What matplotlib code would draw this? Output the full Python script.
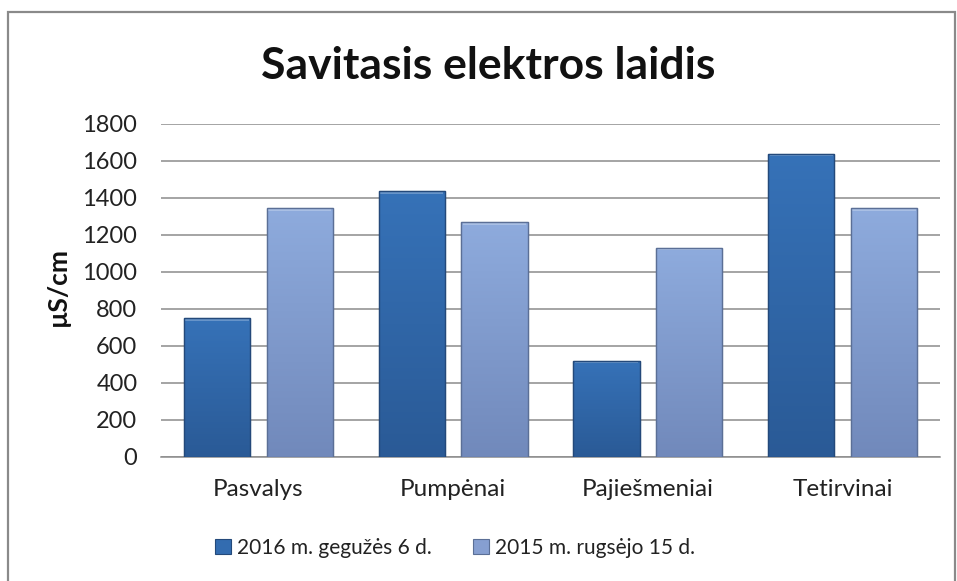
import matplotlib
matplotlib.use("Agg")
import matplotlib.pyplot as plt
import numpy as np
from matplotlib.patches import Rectangle
from matplotlib.colors import LinearSegmentedColormap

categories = ["Pasvalys", "Pumpėnai", "Pajiešmeniai", "Tetirvinai"]
series_names = ["2016 m. gegužės 6 d.", "2015 m. rugsėjo 15 d."]
values_2016 = [750, 1435, 520, 1640]
values_2015 = [1345, 1270, 1130, 1345]
yticks = [0, 200, 400, 600, 800, 1000, 1200, 1400, 1600, 1800]
title = "Savitasis elektros laidis"
ylabel = "µS/cm"

plt.rcParams['font.family'] = ['Lato', 'DejaVu Sans']

W, H = 957, 581
fig = plt.figure(figsize=(W / 100, H / 100), dpi=100)
fig.patch.set_facecolor("white")

# outer chart frame
fig.patches.append(Rectangle((8 / W, -0.1), (955 - 8) / W, 1.1 - 12 / H,
                             transform=fig.transFigure, fill=False,
                             edgecolor="#8a8a8a", linewidth=1.6, zorder=0))

left, right = 161 / W, 940 / W
bottom, top = 1 - 456.7 / H, 1 - 124 / H
ax = fig.add_axes([left, bottom, right - left, top - bottom])

x = np.arange(len(categories))
bw = 0.339
gap = 0.086
off = (bw + gap) / 2

dark_cmap = LinearSegmentedColormap.from_list("d", ["#2a5a96", "#3672b8"])
light_cmap = LinearSegmentedColormap.from_list("l", ["#7189bb", "#8eabdd"])

bars1 = ax.bar(x - off, values_2016, bw, color="#336cb0", edgecolor="#24497a",
               linewidth=0.8, label=series_names[0], zorder=3)
bars2 = ax.bar(x + off, values_2015, bw, color="#869fd1", edgecolor="#5b6f96",
               linewidth=0.8, label=series_names[1], zorder=3)

grad = np.linspace(0, 1, 256).reshape(-1, 1)
for bars, cmap in ((bars1, dark_cmap), (bars2, light_cmap)):
    for p in bars:
        bx, by = p.get_x(), p.get_y()
        w, h = p.get_width(), p.get_height()
        im = ax.imshow(grad, cmap=cmap, aspect="auto", origin="lower",
                       extent=(bx, bx + w, by, by + h), zorder=3.5,
                       interpolation="bilinear")
        im.set_clip_path(p)
        # bevel highlight at top
        ax.add_patch(Rectangle((bx + w * 0.02, by + h - 14), w * 0.96, 10,
                               facecolor="white", alpha=0.25, edgecolor="none",
                               zorder=3.6))
        ax.add_patch(Rectangle((bx, by), w, h, fill=False,
                               edgecolor=p.get_edgecolor(), linewidth=1.0,
                               zorder=3.7))

ax.set_xlim(-0.5, len(categories) - 0.5)
ax.set_ylim(0, 1800)
ax.set_yticks(yticks)
ax.set_yticklabels([str(v) for v in yticks], fontsize=17, color="#222222")
ax.set_xticks(x)
ax.set_xticklabels(categories, fontsize=17.5, color="#222222")
ax.tick_params(axis="y", length=0, pad=17)
ax.tick_params(axis="x", length=0, pad=16)
ax.grid(axis="y", color="#8c8c8c", linewidth=1.1, zorder=0)
ax.set_axisbelow(True)
for s in ("top", "right", "left"):
    ax.spines[s].set_visible(False)
ax.spines["bottom"].set_color("#8c8c8c")
ax.spines["bottom"].set_linewidth(1.1)

fig.text(58 / W, 1 - 287 / H, ylabel, rotation=90, ha="center",
         va="center", fontsize=19, fontweight="bold", color="#111111")
fig.text(488 / W, 1 - 66 / H, title, ha="center", va="center", fontsize=32,
         fontweight="bold", color="#111111")

leg = fig.legend(handles=[bars1, bars2], labels=series_names, loc="center",
                 bbox_to_anchor=(455 / W, 1 - 548 / H), ncol=2, frameon=False,
                 fontsize=15, handlelength=0.75, handleheight=0.75,
                 handletextpad=0.3, columnspacing=2.0)
for t in leg.get_texts():
    t.set_color("#222222")

fig.savefig("out.png", dpi=100, facecolor="white")
